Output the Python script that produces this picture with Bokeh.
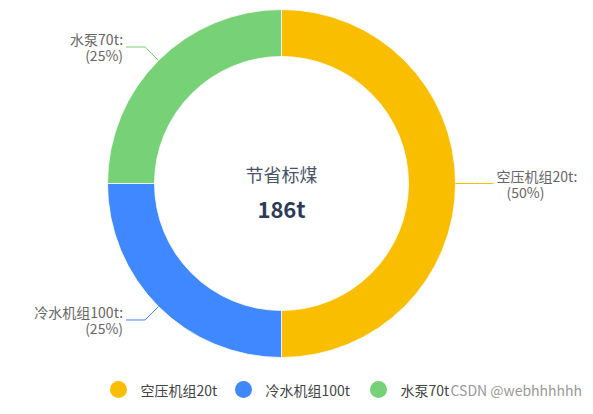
import numpy as np
from bokeh.plotting import figure
from bokeh.models import Range1d, ColumnDataSource
from bokeh.embed import file_html
from bokeh.resources import INLINE
from bokeh.core.properties import value

# ---- data ----
names = ["空压机组20t", "冷水机组100t", "水泵70t"]
values = [50, 25, 25]
colors = ["#F9BE00", "#3F88FF", "#77D176"]
center_title = "节省标煤"
center_value = "186t"
watermark = "CSDN @webhhhhhh"

# ---- layout ----
W, H = 585, 398
CX, CY = 281, -183
R_OUT, R_IN = 174, 127
LEN1, LEN2, GAP = 19, 19, 3
FONT = "Noto Sans CJK SC"

p = figure(width=W, height=H, output_backend="svg", toolbar_location=None,
           x_range=Range1d(0, W), y_range=Range1d(-H, 0),
           x_axis_type=None, y_axis_type=None, min_border=0,
           outline_line_color=None, background_fill_color="white",
           border_fill_color="white")
p.grid.visible = False

vals = np.array(values, dtype=float)
total = vals.sum()
cum = np.concatenate([[0], np.cumsum(vals)])
start = np.pi / 2 - 2 * np.pi * cum[:-1] / total
end = np.pi / 2 - 2 * np.pi * cum[1:] / total
mid = (start + end) / 2
pct = np.round(vals / total * 100).astype(int)

src = ColumnDataSource(dict(start=start, end=end, color=colors, name=names))
p.annular_wedge(x=CX, y=CY, inner_radius=R_IN, outer_radius=R_OUT,
                start_angle="start", end_angle="end", direction="clock",
                fill_color="color", line_color="white", line_width=0.8, source=src)

# leader lines and labels
xs, ys, lx, ly, aligns, t1, t2, poff = [], [], [], [], [], [], [], []
for i in range(len(vals)):
    c, s = np.cos(mid[i]), np.sin(mid[i])
    x0, y0 = CX + R_OUT * c, CY + R_OUT * s
    x1, y1 = CX + (R_OUT + LEN1) * c, CY + (R_OUT + LEN1) * s
    sign = 1 if c >= -1e-9 else -1
    x2 = x1 + sign * LEN2
    xs.append([x0, x1, x2]); ys.append([y0, y1, y1])
    lx.append(x2 + sign * GAP); ly.append(y1)
    aligns.append("left" if sign > 0 else "right")
    t1.append(names[i] + ":")
    t2.append("(" + str(pct[i]) + "%)")
    poff.append(10 if sign > 0 else 0)

p.multi_line(xs=xs, ys=ys, line_color=colors, line_width=1)
lsrc = ColumnDataSource(dict(x=lx, y=ly, a=aligns, t1=t1, t2=t2, off=poff))
p.text(x="x", y="y", text="t1", text_align="a", text_baseline="middle",
       y_offset=-8, text_font=value(FONT), text_font_size="14px",
       text_color="#666666", source=lsrc)
p.text(x="x", y="y", text="t2", text_align="a", text_baseline="middle",
       y_offset=8, x_offset="off", text_font=value(FONT), text_font_size="14px",
       text_color="#666666", source=lsrc)

# center text
p.text(x=[CX], y=[CY], text=[center_title], text_align="center",
       text_baseline="middle", y_offset=-10, text_font=value(FONT),
       text_font_size="18px", text_color="#4a5468")
p.text(x=[CX], y=[CY], text=[center_value], text_align="center",
       text_baseline="middle", y_offset=24, text_font=value(FONT),
       text_font_size="22px", text_font_style="bold", text_color="#2d3a58")

# legend
legend_x = [118, 243, 378]
legend_y = -389
p.scatter(x=legend_x, y=[legend_y] * 3, size=17, marker="circle",
          fill_color=colors, line_color=None)
p.text(x=[x + 22 for x in legend_x], y=[legend_y] * 3, text=names,
       text_align="left", text_baseline="middle", text_font=value(FONT),
       text_font_size="14px", text_color="#444444")

# watermark
p.text(x=[450], y=[legend_y], text=[watermark], text_align="left",
       text_baseline="middle", text_font=value(FONT), text_font_size="14px",
       text_color="#999999")

open("out.html", "w").write(file_html(p, INLINE))
